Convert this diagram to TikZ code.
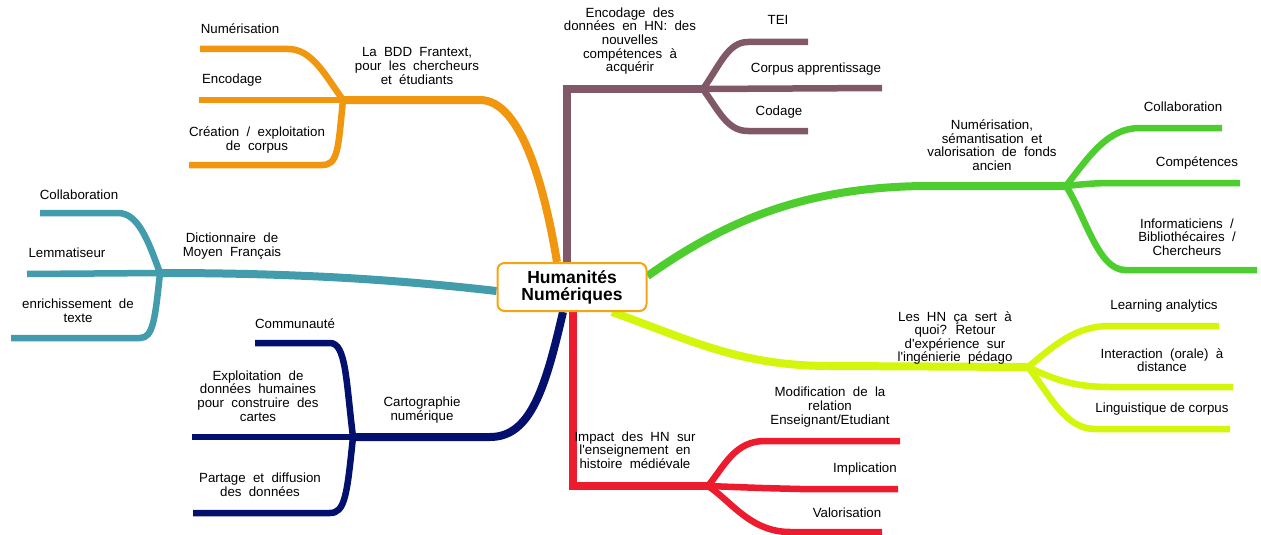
\documentclass[tikz,border=0pt]{standalone}
\usepackage{fontspec}
\setmainfont{Liberation Sans}
\usetikzlibrary{backgrounds}
\definecolor{cOr}{RGB}{240,150,15}
\definecolor{cOrB}{RGB}{246,164,18}
\definecolor{cMa}{RGB}{128,88,103}
\definecolor{cGr}{RGB}{77,205,46}
\definecolor{cYe}{RGB}{212,245,12}
\definecolor{cRe}{RGB}{237,27,46}
\definecolor{cNa}{RGB}{3,16,110}
\definecolor{cTe}{RGB}{66,156,172}
\newcommand\wsp{\spaceskip=0.55em\relax}
\newcommand\apo{\textquotesingle}
\tikzset{
  lbl/.style={font=\fontsize{13.3}{13.6}\selectfont, inner sep=0pt, align=center},
  wlbl/.style={lbl, execute at begin node=\wsp},
  mainbr/.style={line width=8pt},
  subbr/.style={line width=6.5pt},
}
\begin{document}
\begin{tikzpicture}[x=1pt,y=-1pt]
\useasboundingbox (0,0) rectangle (1261,535);
% central node
\node[draw=cOrB, line width=2pt, rounded corners=7pt, fill=white,
  minimum width=149pt, minimum height=48pt, inner sep=0pt,
  font=\bfseries\fontsize{17.5}{17}\selectfont, align=center] (c) at (572,287) {Humanités\\Numériques};
% junctions and ends
\coordinate (jO) at (343,100);
\coordinate (eO1) at (200,49);
\coordinate (eO2) at (199,100);
\coordinate (eO3) at (189,165);
\coordinate (jM) at (703,89);
\coordinate (eM1) at (808,42);
\coordinate (eM2) at (882,88);
\coordinate (eM3) at (808,131);
\coordinate (jG) at (1066,186);
\coordinate (eG1) at (1222,128);
\coordinate (eG2) at (1240,183);
\coordinate (eG3) at (1257,270);
\coordinate (jY) at (1028,367);
\coordinate (eY1) at (1219,326);
\coordinate (eY2) at (1233,387);
\coordinate (eY3) at (1230,429);
\coordinate (jR) at (708,486);
\coordinate (eR1) at (900,441);
\coordinate (eR2) at (898,489);
\coordinate (eR3) at (882,532);
\coordinate (jN) at (353,437);
\coordinate (eN1) at (255,343);
\coordinate (eN2) at (192,437);
\coordinate (eN3) at (193,513);
\coordinate (jT) at (160,273);
\coordinate (eT1) at (40,213);
\coordinate (eT2) at (27,274);
\coordinate (eT3) at (11,338);
\begin{scope}[on background layer]
% orange
\draw[cOr, mainbr] ([xshift=-15pt]c.north) .. controls (545,190) and (522,100) .. (480,100) -- (jO);
\draw[cOr, subbr] (jO) .. controls (325,75) and (312,49) .. (288,49) -- (eO1);
\draw[cOr, subbr] (jO) -- (eO2);
\draw[cOr, subbr] (jO) .. controls (338,150) and (338,165) .. (322,165) -- (eO3);
% mauve
\draw[cMa, mainbr] ([xshift=-5pt]c.north) -- (567,89) -- (jM);
\draw[cMa, subbr] (jM) .. controls (720,65) and (728,42) .. (748,42) -- (eM1);
\draw[cMa, subbr] (jM) -- (eM2);
\draw[cMa, subbr] (jM) .. controls (720,113) and (728,131) .. (748,131) -- (eM3);
% green
\draw[cGr, mainbr] ([yshift=11pt]c.east) .. controls (720,225) and (800,186) .. (930,186) -- (jG);
\draw[cGr, subbr] (jG) .. controls (1090,155) and (1108,128) .. (1140,128) -- (eG1);
\draw[cGr, subbr] (jG) .. controls (1095,183) .. (1140,183) -- (eG2);
\draw[cGr, subbr] (jG) .. controls (1085,215) and (1098,270) .. (1125,270) -- (eG3);
% yellow
\draw[cYe, mainbr] ([xshift=40pt]c.south) .. controls (690,340) and (740,366) .. (830,366) -- (jY);
\draw[cYe, subbr] (jY) .. controls (1055,345) and (1075,326) .. (1110,326) -- (eY1);
\draw[cYe, subbr] (jY) .. controls (1055,380) and (1075,387) .. (1110,387) -- (eY2);
\draw[cYe, subbr] (jY) .. controls (1050,395) and (1065,429) .. (1095,429) -- (eY3);
% red
\draw[cRe, mainbr] ([xshift=1pt]c.south) -- (573,486) -- (jR);
\draw[cRe, subbr] (jR) .. controls (725,465) and (735,441) .. (765,441) -- (eR1);
\draw[cRe, subbr] (jR) .. controls (760,488) .. (800,489) -- (eR2);
\draw[cRe, subbr] (jR) .. controls (730,500) and (750,532) .. (790,532) -- (eR3);
% navy
\draw[cNa, mainbr] ([xshift=-9pt]c.south) .. controls (545,390) and (530,437) .. (490,437) -- (jN);
\draw[cNa, subbr] (jN) .. controls (346,380) and (346,343) .. (330,343) -- (eN1);
\draw[cNa, subbr] (jN) -- (eN2);
\draw[cNa, subbr] (jN) .. controls (347,495) and (345,513) .. (330,513) -- (eN3);
% teal
\draw[cTe, mainbr] ([yshift=-4pt]c.west) .. controls (400,280) and (300,273) .. (jT);
\draw[cTe, subbr] (jT) .. controls (148,240) and (138,213) .. (118,213) -- (eT1);
\draw[cTe, subbr] (jT) -- (eT2);
\draw[cTe, subbr] (jT) .. controls (155,320) and (153,338) .. (140,338) -- (eT3);
\end{scope}
% labels orange
\node[wlbl] (lO) at (417,66) {La BDD Frantext,\\pour les chercheurs\\et étudiants};
\node[lbl] (lO1) at (240,29) {Numérisation};
\node[lbl] (lO2) at (232,80) {Encodage};
\node[wlbl] (lO3) at (257,140) {Création / exploitation\\de corpus};
% mauve
\node[wlbl] (lM) at (630,41) {Encodage des\\données en HN: des\\nouvelles\\compétences à\\acquérir};
\node[lbl] (lM1) at (778,20) {TEI};
\node[lbl] (lM2) at (816,69) {Corpus apprentissage};
\node[lbl] (lM3) at (779,112) {Codage};
% green
\node[wlbl] (lG) at (992,145) {Numérisation,\\sémantisation et\\valorisation de fonds\\ancien};
\node[lbl] (lG1) at (1183,107) {Collaboration};
\node[lbl] (lG2) at (1197,163) {Compétences};
\node[wlbl] (lG3) at (1187,237) {Informaticiens /\\Bibliothécaires /\\Chercheurs};
% yellow
\node[wlbl] (lY) at (955,338) {Les HN ça sert à\\quoi? Retour\\d\apo expérience sur\\l\apo ingénierie pédago};
\node[lbl] (lY1) at (1164,306) {Learning analytics};
\node[wlbl] (lY2) at (1162,360) {Interaction (orale) à\\distance};
\node[lbl] (lY3) at (1162,409) {Linguistique de corpus};
% red
\node[wlbl] (lR) at (635,450) {Impact des HN sur\\l\apo enseignement en\\histoire médiévale};
\node[wlbl] (lR1) at (830,407) {Modification de la\\relation\\Enseignant/Etudiant};
\node[lbl] (lR2) at (865,469) {Implication};
\node[lbl] (lR3) at (847,513) {Valorisation};
% navy
\node[wlbl] (lN) at (422,410) {Cartographie\\numérique};
\node[lbl] (lN1) at (295,324) {Communauté};
\node[wlbl] (lN2) at (258,396) {Exploitation de\\données humaines\\pour construire des\\cartes};
\node[wlbl] (lN3) at (260,485) {Partage et diffusion\\des données};
% teal
\node[wlbl] (lT) at (232,246) {Dictionnaire de\\Moyen Français};
\node[lbl] (lT1) at (79,195) {Collaboration};
\node[lbl] (lT2) at (67,253) {Lemmatiseur};
\node[wlbl] (lT3) at (78,311) {enrichissement de\\texte};
\end{tikzpicture}
\end{document}
